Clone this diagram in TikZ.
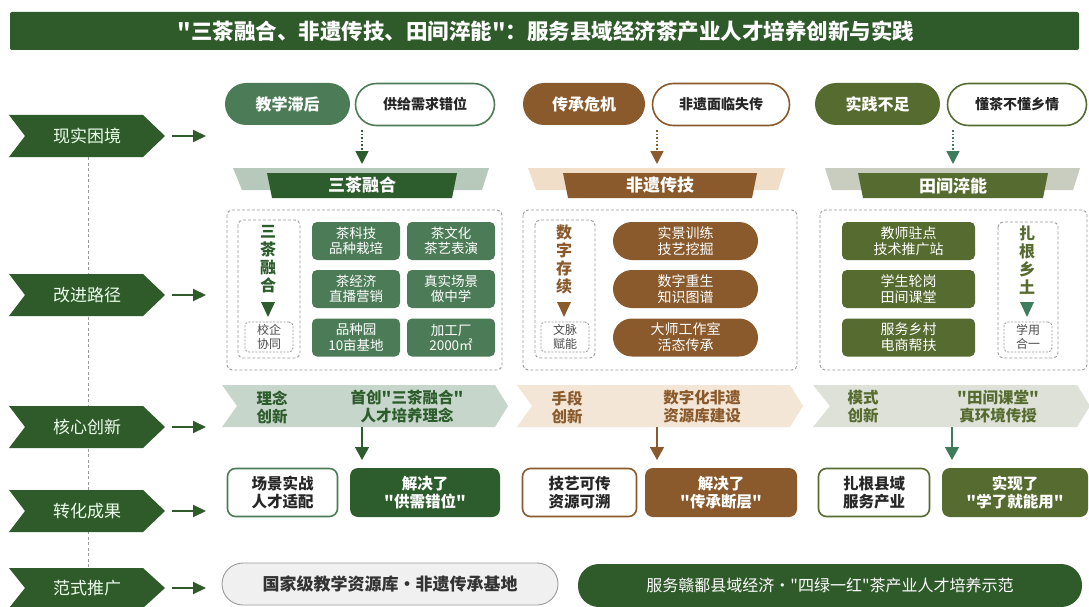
\documentclass[tikz,border=0pt]{standalone}
\usepackage{fontspec}
\setmainfont{Noto Sans CJK SC}[Ligatures=TeXOff]
\usetikzlibrary{arrows.meta}
\definecolor{dkgreen}{HTML}{2F5A2A}
\definecolor{gA}{HTML}{4C7C57}
\definecolor{gAdark}{HTML}{2E5D2D}
\definecolor{gAlight}{HTML}{B7C9BB}
\definecolor{gAinno}{HTML}{C6D6CA}
\definecolor{brB}{HTML}{8A5A2C}
\definecolor{brBlight}{HTML}{F1DEC8}
\definecolor{brBinno}{HTML}{F4E6D6}
\definecolor{olC}{HTML}{566B2F}
\definecolor{olClight}{HTML}{C9CDBF}
\definecolor{olCinno}{HTML}{DDE1D7}
\definecolor{teal}{HTML}{3E7D5C}
\definecolor{cgray}{HTML}{9A9A9A}
\definecolor{txtdark}{HTML}{262626}
\tikzset{
  lefttext/.style={text=white!92!green, font=\fontsize{17}{19}\selectfont},
  smallarrow/.style={dkgreen, line width=2pt, -{Triangle[length=13pt,width=12pt]}},
  dotarrow/.style={#1, line width=1.6pt, dotted, -{Triangle[length=13pt,width=13pt]}},
  solarrow/.style={#1, line width=1.4pt, -{Triangle[length=13pt,width=14pt]}},
  pillfill/.style={fill=#1, rounded corners=21pt, inner sep=0pt, text=white, font=\bfseries\fontsize{16}{18}\selectfont},
  pillline/.style={draw=#1, line width=1.6pt, fill=white, rounded corners=21pt, inner sep=0pt, text=txtdark, font=\bfseries\fontsize{14}{16}\selectfont},
  bantext/.style={text=white, font=\bfseries\fontsize{17}{19}\selectfont},
  container/.style={draw=cgray, line width=0.9pt, dash pattern=on 3pt off 2pt, rounded corners=5pt},
  vtext/.style={text=#1, align=center, font=\bfseries\fontsize{16}{18}\selectfont},
  smallbox/.style={draw=cgray, line width=0.9pt, dash pattern=on 2pt off 1.5pt, rounded corners=4pt, fill=white, align=center, inner sep=0pt, text=black!70, font=\fontsize{12}{13.5}\selectfont, minimum width=48pt, minimum height=30pt},
  gridbox/.style={fill=#1, rounded corners=5pt, inner sep=0pt, text=white, align=center, font=\fontsize{13.5}{15.5}\selectfont, minimum height=38pt},
  innotext/.style={text=#1, align=center, font=\bfseries\fontsize{15.5}{18}\selectfont},
  resline/.style={draw=#1, line width=1.6pt, fill=white, rounded corners=8pt, inner sep=0pt, align=center, text=txtdark, font=\bfseries\fontsize{15.5}{18}\selectfont, minimum height=48pt},
  resfill/.style={fill=#1, rounded corners=8pt, inner sep=0pt, align=center, text=white, font=\bfseries\fontsize{15.5}{18}\selectfont, minimum height=49pt},
}
\begin{document}
\begin{tikzpicture}[x=1pt,y=-1pt]
\useasboundingbox (0,0) rectangle (1089,607);
\fill[white] (0,0) rectangle (1089,607);
% title
\fill[dkgreen, rounded corners=2pt] (10,12) rectangle (1079,50);
\node[text=white, font=\bfseries\fontsize{21.5}{23}\selectfont] (title) at (546,31) {"三茶融合、非遗传技、田间淬能"：服务县域经济茶产业人才培养创新与实践};
% left dashed spine
\draw[cgray, line width=1pt, dash pattern=on 3pt off 2.5pt] (88,157) -- (88,568);
% left chevrons
\foreach \yt/\yb/\lab/\nm in {115/157/现实困境/sa, 274/316/改进路径/sb, 406/448/核心创新/sc, 490/532/转化成果/sd, 568/608/范式推广/se}{
  \pgfmathsetmacro\ym{(\yt+\yb)/2}
  \fill[dkgreen] (9,\yt) -- (143,\yt) -- (165,\ym) -- (143,\yb) -- (9,\yb) -- (25,\ym) -- cycle;
  \node[lefttext] (\nm) at (87,\ym) {\lab};
  \coordinate (\nm-a) at (172,\ym);
  \coordinate (\nm-b) at (206,\ym);
  \draw[smallarrow] (\nm-a) -- (\nm-b);
}
% ===== column 1 =====
\node[pillfill=gA, minimum width=125pt, minimum height=42pt] (p1a) at (287.5,104) {教学滞后};
\node[pillline=gA, minimum width=139pt, minimum height=42pt] (p1b) at (425,104.5) {供给需求错位};
\fill[gAlight] (233,168) -- (489,168) -- (482,190) -- (242,190) -- cycle;
\fill[gAdark] (267,173) -- (457,173) -- (452,198) -- (272,198) -- cycle;
\node[bantext] (b1) at (362,185.5) {三茶融合};
\coordinate (d1s) at (362,130);
\coordinate (d1e) at (362,164);
\draw[dotarrow=gAdark] (d1s) -- (d1e);
\draw[container] (227,210) rectangle (502,370);
\draw[container] (238,220) rectangle (300,358);
\node[vtext=gAdark] (v1) at (268,259) {三\\茶\\融\\合};
\fill[gAdark] (261,302) -- (275,302) -- (268,317) -- cycle;
\node[smallbox] (s1) at (269,337) {校企\\协同};
\node[gridbox=gA, minimum width=88pt] (g11) at (356,241) {茶科技\\品种栽培};
\node[gridbox=gA, minimum width=88pt] (g12) at (451,241) {茶文化\\茶艺表演};
\node[gridbox=gA, minimum width=88pt] (g21) at (356,289) {茶经济\\直播营销};
\node[gridbox=gA, minimum width=88pt] (g22) at (451,289) {真实场景\\做中学};
\node[gridbox=gA, minimum width=88pt] (g31) at (356,337.5) {品种园\\10亩基地};
\node[gridbox=gA, minimum width=88pt] (g32) at (451,337.5) {加工厂\\2000㎡};
% ===== column 2 =====
\node[pillfill=brB, minimum width=122pt, minimum height=42pt] (p2a) at (584,104) {传承危机};
\node[pillline=brB, minimum width=137pt, minimum height=42pt] (p2b) at (721,104.5) {非遗面临失传};
\fill[brBlight] (528,168) -- (785,168) -- (778,190) -- (536,190) -- cycle;
\fill[brB] (563,173) -- (757,173) -- (752,198) -- (568,198) -- cycle;
\node[bantext] (b2) at (660,185.5) {非遗传技};
\coordinate (d2s) at (657,130);
\coordinate (d2e) at (657,164);
\draw[dotarrow=brB] (d2s) -- (d2e);
\draw[container] (523,210) rectangle (797,370);
\draw[container] (535,220) rectangle (595,358);
\node[vtext=brB] (v2) at (564,259) {数\\字\\存\\续};
\fill[brB] (557,302) -- (571,302) -- (564,317) -- cycle;
\node[smallbox] (s2) at (565,337) {文脉\\赋能};
\node[gridbox=brB, minimum width=145pt, rounded corners=19pt, font=\fontsize{14}{16}\selectfont] (q1) at (685.5,241) {实景训练\\技艺挖掘};
\node[gridbox=brB, minimum width=145pt, rounded corners=19pt, font=\fontsize{14}{16}\selectfont] (q2) at (685.5,289) {数字重生\\知识图谱};
\node[gridbox=brB, minimum width=145pt, rounded corners=19pt, font=\fontsize{14}{16}\selectfont] (q3) at (685.5,337.5) {大师工作室\\活态传承};
% ===== column 3 =====
\node[pillfill=olC, minimum width=125pt, minimum height=42pt] (p3a) at (877.5,104) {实践不足};
\node[pillline=olC, minimum width=139pt, minimum height=42pt] (p3b) at (1017,104.5) {懂茶不懂乡情};
\fill[olClight] (825,168) -- (1080,168) -- (1073,190) -- (832,190) -- cycle;
\fill[olC] (858,173) -- (1048,173) -- (1043,198) -- (863,198) -- cycle;
\node[bantext] (b3) at (953,185.5) {田间淬能};
\coordinate (d3s) at (953,130);
\coordinate (d3e) at (953,164);
\draw[dotarrow=teal] (d3s) -- (d3e);
\draw[container] (820,210) rectangle (1087,370);
\node[gridbox=olC, minimum width=133pt, font=\fontsize{14}{16}\selectfont] (r1) at (908.5,241) {教师驻点\\技术推广站};
\node[gridbox=olC, minimum width=133pt, font=\fontsize{14}{16}\selectfont] (r2) at (908.5,289) {学生轮岗\\田间课堂};
\node[gridbox=olC, minimum width=133pt, font=\fontsize{14}{16}\selectfont] (r3) at (908.5,337.5) {服务乡村\\电商帮扶};
\draw[container] (998,222) rectangle (1058,358);
\node[vtext=olC] (v3) at (1027,260) {扎\\根\\乡\\土};
\fill[teal] (1020,302) -- (1034,302) -- (1027,317) -- cycle;
\node[smallbox] (s3) at (1028,337) {学用\\合一};
% ===== innovation chevrons =====
\fill[gAinno] (222,385) -- (495,385) -- (508,406) -- (495,427) -- (222,427) -- (237,406) -- cycle;
\fill[brBinno] (517,385) -- (790,385) -- (803,406) -- (790,427) -- (517,427) -- (532,406) -- cycle;
\fill[olCinno] (813,385) -- (1077,385) -- (1090,406) -- (1077,427) -- (813,427) -- (830,406) -- cycle;
\node[innotext=gAdark] (i1a) at (272,407) {理念\\创新};
\node[innotext=gAdark] (i1b) at (407,407) {首创"三茶融合"\\人才培养理念};
\node[innotext=brB] (i2a) at (567,407) {手段\\创新};
\node[innotext=brB] (i2b) at (702,407) {数字化非遗\\资源库建设};
\node[innotext=olC] (i3a) at (863,407) {模式\\创新};
\node[innotext=olC] (i3b) at (998,407) {"田间课堂"\\真环境传授};
% arrows to results
\coordinate (e1s) at (362,427); \coordinate (e1e) at (362,460);
\coordinate (e2s) at (657,427); \coordinate (e2e) at (657,460);
\coordinate (e3s) at (952,427); \coordinate (e3e) at (952,460);
\draw[solarrow=gAdark] (e1s) -- (e1e);
\draw[solarrow=brB] (e2s) -- (e2e);
\draw[solarrow=teal] (e3s) -- (e3e);
% results
\node[resline=gA, minimum width=110pt] (o1a) at (282.5,492.5) {场景实战\\人才适配};
\node[resfill=gAdark, minimum width=150pt] (o1b) at (425,492.5) {解决了\\"供需错位"};
\node[resline=brB, minimum width=114pt] (o2a) at (579.5,492.5) {技艺可传\\资源可溯};
\node[resfill=brB, minimum width=152pt] (o2b) at (721,492.5) {解决了\\"传承断层"};
\node[resline=olC, minimum width=111pt] (o3a) at (874,492.5) {扎根县域\\服务产业};
\node[resfill=olC, minimum width=146pt] (o3b) at (1015,492.5) {实现了\\"学了就能用"};
% bottom
\node[draw=cgray, line width=0.9pt, fill=black!6, rounded corners=21pt, minimum width=336pt, minimum height=42pt, inner sep=0pt, text=black!80, font=\bfseries\fontsize{17}{19}\selectfont] (f1) at (390,584) {国家级教学资源库·非遗传承基地};
\node[fill=dkgreen, rounded corners=21pt, minimum width=504pt, minimum height=43pt, inner sep=0pt, text=white, font=\fontsize{16}{18}\selectfont] (f2) at (830,585.5) {服务赣鄱县域经济·"四绿一红"茶产业人才培养示范};
\end{tikzpicture}
\end{document}
